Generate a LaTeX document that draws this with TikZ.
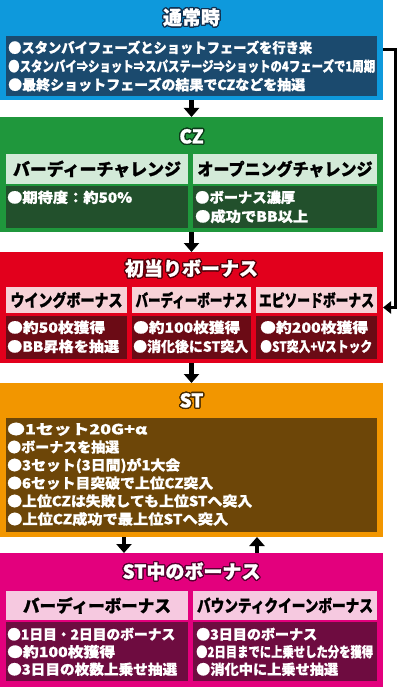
\documentclass[tikz,border=0pt]{standalone}
\usepackage{fontspec}
\setmainfont{Noto Sans CJK JP}[BoldFeatures={FakeBold=1}]
\usepackage{graphicx}
\usepackage[copies]{contour}
\contourlength{1.3pt}
\usetikzlibrary{arrows.meta,positioning}

\definecolor{bluebg}{HTML}{0E99DC}
\definecolor{bluebody}{HTML}{1B4A6E}
\definecolor{blueline}{HTML}{12304F}
\definecolor{greenbg}{HTML}{1F973C}
\definecolor{greenhead}{HTML}{D3EAD8}
\definecolor{greenbody}{HTML}{22502C}
\definecolor{greenline}{HTML}{0D3B1A}
\definecolor{redbg}{HTML}{E2001C}
\definecolor{redhead}{HTML}{F7D2D7}
\definecolor{redbody}{HTML}{6B0B15}
\definecolor{redline}{HTML}{55000A}
\definecolor{orangebg}{HTML}{F29600}
\definecolor{orangebody}{HTML}{6D4608}
\definecolor{orangeline}{HTML}{4A2C00}
\definecolor{magbg}{HTML}{E3007D}
\definecolor{maghead}{HTML}{F6C9E0}
\definecolor{magbody}{HTML}{6E0C40}
\definecolor{magline}{HTML}{550030}

% squeeze a line of text to a given width (pt), height kept
\newcommand\fitto[2]{\resizebox{#1pt}{\height}{#2}}

\tikzset{
  panel/.style={anchor=north west, inner sep=0pt, outer sep=0pt},
  title/.style={font=\bfseries\fontsize{19}{19}\selectfont, text=white},
  head/.style={panel, font=\bfseries\fontsize{17}{17}\selectfont, text=black},
  body/.style={anchor=north west, inner sep=0pt, align=left, text=white,
    font=\bfseries\fontsize{14}{18.5}\selectfont},
  flow/.style={-{Triangle[width=15pt,length=9pt]}, line width=4.5pt, black},
  back/.style={-{Triangle[width=12pt,length=8pt]}, line width=3pt, black},
}

\begin{document}
\begin{tikzpicture}[x=1pt, y=-1pt]
  \useasboundingbox[fill=white] (0,0) rectangle (400,687);

  % main panels
  \node[panel, fill=bluebg,   minimum width=383pt, minimum height=100pt] (normal) at (0,0) {};
  \node[panel, fill=greenbg,  minimum width=383pt, minimum height=115pt] (cz)     at (0,117) {};
  \node[panel, fill=redbg,    minimum width=383pt, minimum height=111pt] (first)  at (0,252) {};
  \node[panel, fill=orangebg, minimum width=383pt, minimum height=154pt] (st)     at (0,383) {};
  \node[panel, fill=magbg,    minimum width=383pt, minimum height=134pt] (stb)    at (0,553) {};

  % titles
  \node[title] (normalttl) at (191.5,18)  {\contour{blueline}{通常時}};
  \node[title] (czttl)     at (191.5,137) {\contour{greenline}{CZ}};
  \node[title] (firstttl)  at (191.5,269) {\contour{redline}{初当りボーナス}};
  \node[title] (stttl)     at (191.5,401) {\contour{orangeline}{ST}};
  \node[title] (stbttl)    at (191.5,572) {\contour{magline}{ST中のボーナス}};

  % normal
  \node[panel, fill=bluebody, minimum width=371pt, minimum height=60pt] (normalbody) at (6,36) {};
  \node[body] (normaltxt) at (8,40.5) {%
    \fitto{304}{●スタンバイフェーズとショットフェーズを行き来}\\
    \fitto{367}{●スタンバイ⇒ショット⇒スパステージ⇒ショットの4フェーズで1周期}\\
    \fitto{297}{●最終ショットフェーズの結果でCZなどを抽選}};

  % CZ
  \node[head, fill=greenhead, minimum width=182pt, minimum height=30pt] (czhl) at (6,154)   {\fitto{168}{バーディーチャレンジ}};
  \node[head, fill=greenhead, minimum width=184pt, minimum height=30pt] (czhr) at (193,154) {\fitto{175}{オープニングチャレンジ}};
  \node[panel, fill=greenbody, minimum width=182pt, minimum height=42pt] (czbl) at (6,186) {};
  \node[panel, fill=greenbody, minimum width=184pt, minimum height=42pt] (czbr) at (193,186) {};
  \node[body, font=\bfseries\fontsize{14}{19}\selectfont] (czl) at (7,190.5) {\fitto{125}{●期待度：約50\%}};
  \node[body, font=\bfseries\fontsize{14}{19}\selectfont] (czr) at (195,190.5) {%
    \fitto{100}{●ボーナス濃厚}\\
    \fitto{113}{●成功でBB以上}};

  % first bonus
  \node[head, fill=redhead, minimum width=121pt, minimum height=26pt] (fh1) at (6,287)   {\fitto{112}{ウイングボーナス}};
  \node[head, fill=redhead, minimum width=119pt, minimum height=26pt] (fh2) at (132,287) {\fitto{112}{バーディーボーナス}};
  \node[head, fill=redhead, minimum width=121pt, minimum height=26pt] (fh3) at (256,287) {\fitto{115}{エピソードボーナス}};
  \node[panel, fill=redbody, minimum width=121pt, minimum height=43pt] (fb1) at (6,316) {};
  \node[panel, fill=redbody, minimum width=119pt, minimum height=43pt] (fb2) at (132,316) {};
  \node[panel, fill=redbody, minimum width=121pt, minimum height=43pt] (fb3) at (256,316) {};
  \node[body, font=\bfseries\fontsize{14}{19}\selectfont] (ft1) at (7,320.5) {%
    \fitto{98}{●約50枚獲得}\\
    \fitto{112}{●BB昇格を抽選}};
  \node[body, font=\bfseries\fontsize{14}{19}\selectfont] (ft2) at (133,320.5) {%
    \fitto{107}{●約100枚獲得}\\
    \fitto{115}{●消化後にST突入}};
  \node[body, font=\bfseries\fontsize{14}{19}\selectfont] (ft3) at (260,320.5) {%
    \fitto{108}{●約200枚獲得}\\
    \fitto{112}{●ST突入+Vストック}};

  % ST
  \node[panel, fill=orangebody, minimum width=371pt, minimum height=114pt] (stbody) at (6,418) {};
  \node[body, font=\bfseries\fontsize{14}{18}\selectfont] (sttxt) at (7,422.5) {%
    \fitto{140}{●1セット20G+α}\\
    \fitto{112}{●ボーナスを抽選}\\
    \fitto{173}{●3セット(3日間)が1大会}\\
    \fitto{206}{●6セット目突破で上位CZ突入}\\
    \fitto{245}{●上位CZは失敗しても上位STへ突入}\\
    \fitto{221}{●上位CZ成功で最上位STへ突入}};

  % ST bonus
  \node[head, fill=maghead, minimum width=182pt, minimum height=29pt] (sbhl) at (6,591)   {\fitto{148}{バーディーボーナス}};
  \node[head, fill=maghead, minimum width=184pt, minimum height=29pt] (sbhr) at (193,591) {\fitto{176}{バウンティクイーンボーナス}};
  \node[panel, fill=magbody, minimum width=182pt, minimum height=59pt] (sbbl) at (6,622) {};
  \node[panel, fill=magbody, minimum width=184pt, minimum height=59pt] (sbbr) at (193,622) {};
  \node[body, font=\bfseries\fontsize{14}{17.5}\selectfont] (sbl) at (7,627.5) {%
    \fitto{168}{●1日目・2日目のボーナス}\\
    \fitto{108}{●約100枚獲得}\\
    \fitto{170}{●3日目の枚数上乗せ抽選}};
  \node[body, font=\bfseries\fontsize{14}{17.5}\selectfont] (sbr) at (196,627.5) {%
    \fitto{121}{●3日目のボーナス}\\
    \fitto{177}{●2日目までに上乗せした分を獲得}\\
    \fitto{142}{●消化中に上乗せ抽選}};

  % connectors
  \draw[flow] (normal.south) -- (cz.north);
  \draw[flow] (cz.south) -- (first.north);
  \draw[flow] (first.south) -- (st.north);
  \draw[flow] ([xshift=-67.5pt]st.south) -- ([xshift=-67.5pt]stb.north);
  \draw[flow] ([xshift=65.5pt]stb.north) -- ([xshift=65.5pt]st.south);
  \draw[back] (normal.east) -- ++(12,0) |- (first.east);
\end{tikzpicture}
\end{document}
